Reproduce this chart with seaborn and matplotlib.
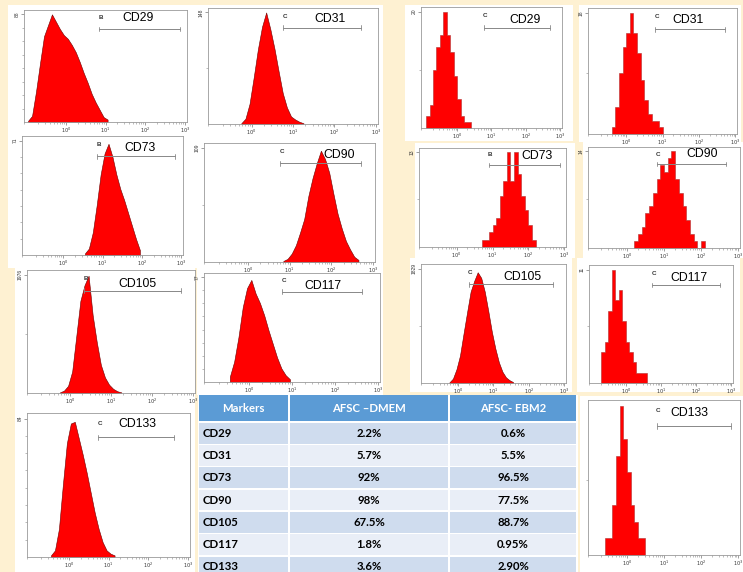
import numpy as np
import pandas as pd
import matplotlib
matplotlib.use("Agg")
import matplotlib.pyplot as plt
import seaborn as sns
from matplotlib.patches import Rectangle
from matplotlib.ticker import FixedLocator, LogLocator, NullFormatter, FixedFormatter

sns.set_theme(style="white")
plt.rcParams['font.family'] = ['Liberation Sans', 'DejaVu Sans']

# ---------------- data ----------------
markers = ["CD29", "CD31", "CD73", "CD90", "CD105", "CD117", "CD133"]
afsc_dmem = ["2.2%", "5.7%", "92%", "98%", "67.5%", "1.8%", "3.6%"]
afsc_ebm2 = ["0.6%", "5.5%", "96.5%", "77.5%", "88.7%", "0.95%", "2.90%"]
table_header = ["Markers", "AFSC \u2013DMEM", "AFSC- EBM2"]

# histogram counts in 0.1-decade bins; *_lo = log10 of first bin's left edge
dmem_cd29_lo = -1.0
dmem_cd29_counts = [1, 5, 25, 48, 70, 79, 88, 82, 76, 71, 68, 63, 57, 49, 40, 32, 23, 16, 10, 4, 2]
dmem_cd31_lo = -0.3
dmem_cd31_counts = [1, 7, 27, 62, 99, 129, 148, 126, 100, 70, 41, 22, 10, 6, 3, 1]
dmem_cd73_lo = 0.5
dmem_cd73_counts = [1, 4, 14, 31, 50, 63, 69, 61, 50, 41, 34, 26, 18, 10, 3]
dmem_cd90_lo = 0.8
dmem_cd90_counts = [1, 3, 8, 16, 28, 41, 63, 80, 94, 106, 98, 85, 65, 46, 32, 20, 12, 5, 2]
dmem_cd105_lo = -0.3
dmem_cd105_counts = [10, 40, 120, 360, 950, 1540, 1800, 1960, 1300, 850, 470, 260, 140, 70, 30, 10]
dmem_cd117_lo = -0.5
dmem_cd117_counts = [4, 15, 33, 55, 69, 75, 65, 58, 49, 38, 28, 18, 10, 5, 2]
dmem_cd133_lo = -0.5
dmem_cd133_counts = [1, 4, 17, 44, 69, 81, 82, 72, 62, 51, 39, 27, 17, 9, 4, 2, 1]

ebm2_cd29_lo = -0.9
ebm2_cd29_counts = [2, 4, 10, 14, 16, 20, 16, 13, 9, 5, 2, 1, 1]
ebm2_cd31_lo = -0.4
ebm2_cd31_counts = [1, 4, 9, 13, 15, 18, 15, 12, 8, 5, 3, 2, 2, 1]
ebm2_cd73_lo = 0.7
ebm2_cd73_counts = [1, 1, 2, 3, 4, 7, 9, 13, 9, 13, 10, 7, 5, 3, 1]
ebm2_cd90_lo = 0.2
ebm2_cd90_counts = [1, 2, 3, 5, 6, 8, 10, 12, 11, 13, 14, 10, 8, 6, 4, 2, 1, 0, 1]
ebm2_cd105_lo = -0.3
ebm2_cd105_counts = [10, 70, 220, 440, 790, 1130, 1460, 1630, 1770, 1680, 1460, 1150, 820, 550, 330, 180, 90, 45, 15]
ebm2_cd117_lo = -0.7
ebm2_cd117_counts = [3, 4, 7, 11, 8, 9, 6, 4, 3, 2, 1, 1, 1]
ebm2_cd133_lo = -0.6
ebm2_cd133_counts = [1, 1, 3, 6, 9, 7, 5, 3, 2, 1, 1]

# y-axis max labels
dmem_ymax = [88, 148, 71, 109, 1976, 77, 84]
ebm2_ymax = [20, 18, 13, 14, 1829, 11, None]

# gate letters and gate ranges (log10 units)
dmem_gate_letter = ["B", "C", "B", "C", "B", "C", "C"]
dmem_gate_lo = [0.83, 0.75, 0.85, 0.78, 0.33, 0.77, 0.73]
dmem_gate_hi = [2.88, 2.63, 2.85, 2.72, 2.70, 2.64, 2.64]
ebm2_gate_letter = ["C", "C", "B", "C", "C", "C", "C"]
ebm2_gate_lo = [0.77, 0.80, 0.89, 0.80, 0.30, 0.75, 0.80]
ebm2_gate_hi = [2.69, 2.73, 2.87, 2.68, 2.69, 2.69, 2.80]

dmem_los = [dmem_cd29_lo, dmem_cd31_lo, dmem_cd73_lo, dmem_cd90_lo, dmem_cd105_lo, dmem_cd117_lo, dmem_cd133_lo]
dmem_counts = [dmem_cd29_counts, dmem_cd31_counts, dmem_cd73_counts, dmem_cd90_counts,
               dmem_cd105_counts, dmem_cd117_counts, dmem_cd133_counts]
ebm2_los = [ebm2_cd29_lo, ebm2_cd31_lo, ebm2_cd73_lo, ebm2_cd90_lo, ebm2_cd105_lo, ebm2_cd117_lo, ebm2_cd133_lo]
ebm2_counts = [ebm2_cd29_counts, ebm2_cd31_counts, ebm2_cd73_counts, ebm2_cd90_counts,
               ebm2_cd105_counts, ebm2_cd117_counts, ebm2_cd133_counts]

# ---------------- layout (pixels: left, top, right, bottom) ----------------
W, H = 743, 572
BG = '#FEF1D2'

frames = {
    ('DMEM', 0): (24, 10, 187, 122), ('DMEM', 1): (208, 8, 378, 124),
    ('EBM2', 0): (421, 7, 562, 128), ('EBM2', 1): (588, 8, 737, 134),
    ('DMEM', 2): (22, 136, 183, 255), ('DMEM', 3): (204, 143, 375, 262),
    ('EBM2', 2): (419, 148, 566, 247), ('EBM2', 3): (588, 147, 740, 248),
    ('DMEM', 4): (27, 270, 195, 393), ('DMEM', 5): (204, 273, 380, 382),
    ('EBM2', 4): (421, 264, 566, 383), ('EBM2', 5): (589, 265, 733, 383),
    ('DMEM', 6): (27, 413, 190, 557), ('EBM2', 6): (588, 400, 740, 555),
}
label_pos = {
    ('DMEM', 0): (0.70, 0.925), ('DMEM', 1): (0.715, 0.905),
    ('EBM2', 0): (0.736, 0.895), ('EBM2', 1): (0.673, 0.907),
    ('DMEM', 2): (0.736, 0.90), ('DMEM', 3): (0.79, 0.896),
    ('EBM2', 2): (0.805, 0.92), ('EBM2', 3): (0.754, 0.927),
    ('DMEM', 4): (0.656, 0.886), ('DMEM', 5): (0.678, 0.884),
    ('EBM2', 4): (0.702, 0.888), ('EBM2', 5): (0.693, 0.887),
    ('DMEM', 6): (0.678, 0.926), ('EBM2', 6): (0.67, 0.916),
}
ydiv = {('DMEM', 0): 8, ('DMEM', 2): 7, ('DMEM', 5): 8, ('DMEM', 6): 8}
white_boxes = [
    (8, 5, 383, 133), (405, 5, 573, 141), (579, 5, 741, 142),
    (8, 133, 195, 268), (195, 133, 383, 268), (415, 143, 575, 258), (583, 142, 743, 258),
    (15, 266, 195, 405), (197, 268, 383, 395), (410, 258, 572, 392), (577, 258, 740, 392),
    (15, 403, 195, 572), (580, 396, 743, 572),
]


def fig_rect(box):
    l, t, r, b = box
    return [l / W, 1 - b / H, (r - l) / W, (b - t) / H]


fig = plt.figure(figsize=(W / 100, H / 100), dpi=100)
fig.patch.set_facecolor(BG)
for wb in white_boxes:
    x, y, w, h = fig_rect(wb)
    fig.add_artist(Rectangle((x, y), w, h, transform=fig.transFigure,
                             facecolor='white', edgecolor='none', zorder=0))

groups = {
    'DMEM': (dmem_los, dmem_counts, dmem_ymax, dmem_gate_letter, dmem_gate_lo, dmem_gate_hi),
    'EBM2': (ebm2_los, ebm2_counts, ebm2_ymax, ebm2_gate_letter, ebm2_gate_lo, ebm2_gate_hi),
}

for medium, (los, counts_list, ymaxs, letters, glo, ghi) in groups.items():
    for i, marker in enumerate(markers):
        ax = fig.add_axes(fig_rect(frames[(medium, i)]))
        ax.set_facecolor('white')
        counts = np.asarray(counts_list[i], dtype=float)
        lo = los[i]
        edges = lo + 0.1 * np.arange(len(counts) + 1)
        centers = 10 ** (edges[:-1] + 0.05)
        df = pd.DataFrame({'value': centers, 'count': counts})
        smooth = (medium == 'DMEM') or (medium == 'EBM2' and marker == 'CD105')
        sns.histplot(data=df, x='value', weights='count', bins=[float(e) for e in edges], log_scale=True,
                     element='poly' if smooth else 'step', fill=True,
                     color='#FF0000', alpha=1.0,
                     edgecolor='#6a0000' if smooth else '#b03030',
                     linewidth=0.4, ax=ax)
        ax.set_xlabel('')
        ax.set_ylabel('')
        ymax = ymaxs[i]
        top = max(counts.max(), ymax if ymax else 0) * 1.04
        ax.set_xlim(10 ** -1.05, 10 ** 3.05)
        ax.set_ylim(0, top)
        # x ticks
        ax.xaxis.set_major_locator(FixedLocator([1, 10, 100, 1000]))
        ax.xaxis.set_major_formatter(FixedFormatter([r'$10^0$', r'$10^1$', r'$10^2$', r'$10^3$']))
        ax.xaxis.set_minor_locator(LogLocator(base=10, subs=np.arange(2, 10)))
        ax.xaxis.set_minor_formatter(NullFormatter())
        # y ticks
        if ymax:
            ax.set_yticks([ymax])
            ax.set_yticklabels([str(ymax)], rotation=90, va='center')
        else:
            ax.set_yticks([])
        nd = ydiv.get((medium, i), 2)
        ref = ymax if ymax else counts.max()
        ax.yaxis.set_minor_locator(FixedLocator([ref * k / nd for k in range(1, nd)]))
        ax.tick_params(axis='both', which='major', direction='out', length=2, width=0.5,
                       color='#777777', labelsize=3.6, labelcolor='#333333', pad=1,
                       bottom=True, left=True)
        ax.tick_params(axis='both', which='minor', direction='out', length=1.2, width=0.4,
                       color='#888888', bottom=True, left=True)
        for sp in ax.spines.values():
            sp.set_color('#9a9a9a')
            sp.set_linewidth(0.6)
        # gate
        gy = 0.83 * top
        g0, g1 = 10 ** glo[i], 10 ** ghi[i]
        ax.plot([g0, g1], [gy, gy], color='#888888', lw=0.7, zorder=5)
        ax.plot([g0, g0], [gy - 0.02 * top, gy + 0.02 * top], color='#888888', lw=0.6, zorder=5)
        ax.plot([g1, g1], [gy - 0.02 * top, gy + 0.02 * top], color='#888888', lw=0.6, zorder=5)
        ax.text(g0 * 1.12, 0.93 * top, letters[i], fontsize=4.5, fontweight='bold',
                color='#333333', ha='center', va='center', zorder=6)
        lx, ly = label_pos[(medium, i)]
        ax.text(lx, ly, marker, transform=ax.transAxes, fontsize=8.8, color='black',
                ha='center', va='center', zorder=6)

# ---------------- table ----------------
tab = fig.add_axes(fig_rect((198, 395, 578, 572)))
tab.set_xlim(198, 578)
tab.set_ylim(572, 395)
tab.axis('off')
tab.add_patch(Rectangle((198, 395), 380, 177, facecolor='white', edgecolor='none'))
col_edges = [198, 289, 449, 577]
header_top, header_bot = 395, 422
row_h = 22.3
gap = 0.8
hdr_color = '#5B9BD5'
dark_row, light_row = '#CFDCEE', '#E9EEF7'
tfont = ['Lato', 'DejaVu Sans']
for c in range(3):
    x0, x1 = col_edges[c], col_edges[c + 1]
    tab.add_patch(Rectangle((x0 + gap, header_top), x1 - x0 - 2 * gap, header_bot - header_top - gap,
                            facecolor=hdr_color, edgecolor='none'))
    tab.text((x0 + x1) / 2, (header_top + header_bot) / 2, table_header[c], color='white',
             fontsize=8.2, fontweight='bold', family=tfont, ha='center', va='center')
for r, m in enumerate(markers):
    y0 = header_bot + r * row_h
    colr = dark_row if r % 2 == 0 else light_row
    vals = [m, afsc_dmem[r], afsc_ebm2[r]]
    for c in range(3):
        x0, x1 = col_edges[c], col_edges[c + 1]
        tab.add_patch(Rectangle((x0 + gap, y0 + gap), x1 - x0 - 2 * gap, row_h - 2 * gap,
                                facecolor=colr, edgecolor='none'))
        if c == 0:
            tab.text(x0 + 5, y0 + row_h / 2, vals[c], color='black', fontsize=8.2,
                     fontweight='bold', family=tfont, ha='left', va='center')
        else:
            tab.text((x0 + x1) / 2, y0 + row_h / 2, vals[c], color='black', fontsize=8.2,
                     fontweight='bold', family=tfont, ha='center', va='center')

fig.savefig('out.png', dpi=100, facecolor=BG)
